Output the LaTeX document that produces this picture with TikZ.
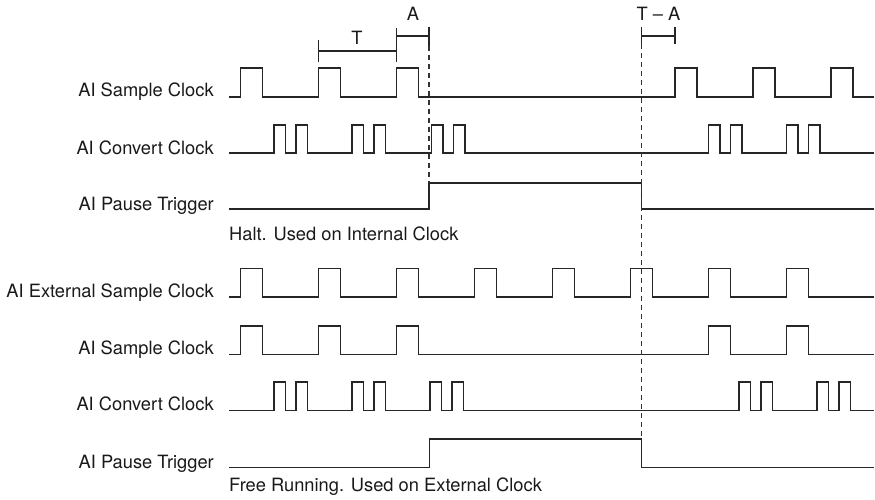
\documentclass[tikz,border=0pt]{standalone}
\usepackage{fontspec}
\setmainfont{TeX Gyre Heros}
\begin{document}
\begin{tikzpicture}[x=1pt,y=-1pt,
  wave/.style={line width=1.1pt, draw=black!85, line join=miter},
  guide/.style={line width=1.1pt, draw=black!80, dash pattern=on 5pt off 4pt},
  dimline/.style={line width=1.1pt, draw=black!85},
  lbl/.style={anchor=base east, inner sep=0pt, font=\fontsize{18.3}{22}\selectfont, text=black!90},
  note/.style={anchor=base west, inner sep=0pt, font=\fontsize{18.3}{22}\selectfont, text=black!90},
  dimtext/.style={anchor=base, inner sep=0pt, font=\fontsize{18.3}{22}\selectfont, text=black!90}
]
\useasboundingbox (0,0) rectangle (875,500);

% ---------- labels ----------
\node[lbl] (l1) at (214,96.5) {AI Sample Clock};
\node[lbl] (l2) at (214,154) {AI Convert Clock};
\node[lbl] (l3) at (214,210.5) {AI Pause Trigger};
\node[note] (n1) at (229,240) {Halt. Used on Internal Clock};
\node[lbl] (l4) at (214,297) {AI External Sample Clock};
\node[lbl] (l5) at (214,354.5) {AI Sample Clock};
\node[lbl] (l6) at (214,410.5) {AI Convert Clock};
\node[lbl] (l7) at (214,468) {AI Pause Trigger};
\node[note] (n2) at (229,491.5) {Free Running. Used on External Clock};

% ---------- top: internal clock ----------
\draw[wave] (229,97) \foreach \x in {240.5,318.5,396.5,675,753,831}
  { -- (\x,97) -- (\x,68) -- (\x+22,68) -- (\x+22,97) } -- (874,97);
\draw[wave] (229,153) \foreach \g in {274,352,431.5,708.5,786.5}
  { -- (\g,153) -- (\g,125) -- (\g+11.5,125) -- (\g+11.5,153)
    -- (\g+22,153) -- (\g+22,125) -- (\g+33.5,125) -- (\g+33.5,153) } -- (874,153);
\draw[wave] (229,209) -- (429,209) -- (429,183) -- (641.5,183) -- (641.5,209) -- (874,209);

% ---------- bottom: external clock ----------
\draw[wave] (229,297) \foreach \x in {240.5,318.5,396.5,474.5,552.5,630.5,708.5,786.5}
  { -- (\x,297) -- (\x,268.5) -- (\x+22,268.5) -- (\x+22,297) } -- (874,297);
\draw[wave] (229,354.5) \foreach \x in {240.5,318.5,396.5,708.5,786.5}
  { -- (\x,354.5) -- (\x,326) -- (\x+22,326) -- (\x+22,354.5) } -- (874,354.5);
\draw[wave] (229,410.5) \foreach \g in {274,352,430,739,817}
  { -- (\g,410.5) -- (\g,382) -- (\g+11.5,382) -- (\g+11.5,410.5)
    -- (\g+22,410.5) -- (\g+22,382) -- (\g+33.5,382) -- (\g+33.5,410.5) } -- (874,410.5);
\draw[wave] (229,467.5) -- (429.5,467.5) -- (429.5,439) -- (641.5,439) -- (641.5,467.5) -- (874,467.5);

% ---------- dimension brackets ----------
\coordinate (d1top) at (429,46);
\coordinate (d1bot) at (429,183);
\coordinate (d2top) at (641.5,44);
\coordinate (d2bot) at (641.5,439);
\draw[guide] (d1top) -- (d1bot);
\draw[guide] (d2top) -- (d2bot);

\draw[dimline] (318.5,40) -- (318.5,62);
\draw[dimline] (318.5,51) -- (396.5,51);
\draw[dimline] (396.5,28) -- (396.5,62);
\draw[dimline] (396.5,36) -- (429,36);
\draw[dimline] (429,27) -- (429,46);
\draw[dimline] (641.5,27) -- (641.5,44);
\draw[dimline] (641.5,36) -- (675,36);
\draw[dimline] (675,27) -- (675,44);

\node[dimtext] (tT) at (357,45) {T};
\node[dimtext] (tA) at (413,20.5) {A};
\node[dimtext] (tTA) at (658.5,20.5) {T – A};
\end{tikzpicture}
\end{document}
